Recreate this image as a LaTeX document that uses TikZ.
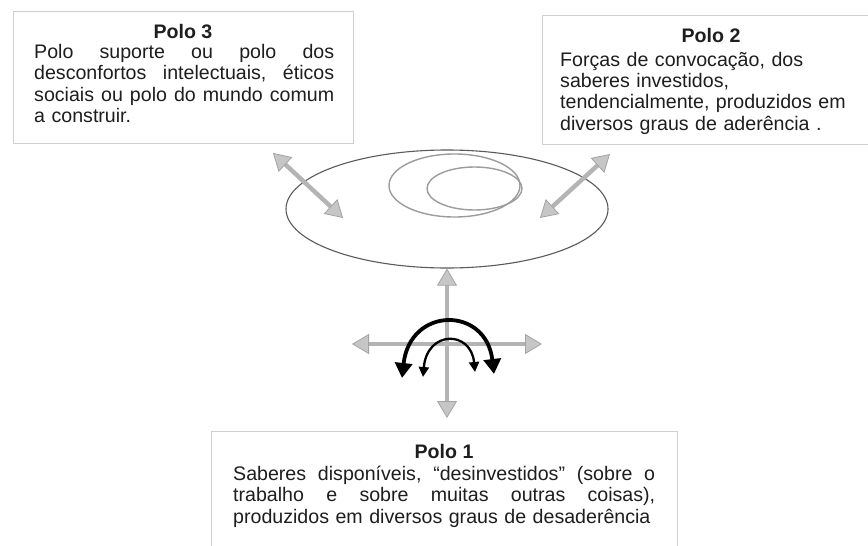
\documentclass[tikz,border=0pt]{standalone}
\usepackage{fontspec}
\setmainfont{Liberation Sans}
\usetikzlibrary{arrows.meta,shapes.geometric}
\definecolor{boxline}{HTML}{CFCFCF}
\definecolor{txt}{HTML}{1E1E1E}
\definecolor{arrline}{HTML}{B4B4B4}
\definecolor{arrfill}{HTML}{C6C6C6}
\definecolor{arredge}{HTML}{A4A4A4}
\definecolor{ellout}{HTML}{5A5A5A}
\definecolor{ellin}{HTML}{9C9C9C}
\newcommand{\jline}[2]{\leavevmode\hbox to #1{#2}}
\begin{document}
\begin{tikzpicture}[x=1pt,y=-1pt,
  box/.style={draw=boxline, line width=1.3pt, fill=white, rectangle, inner sep=0pt, anchor=north west},
  head/.style={font=\fontsize{19.6}{21.5}\selectfont\bfseries, text=txt, inner sep=0pt, anchor=base},
  body/.style={font=\fontsize{19.6}{21.5}\selectfont, text=txt, inner sep=0pt, anchor=base west, align=left},
  grayarr/.style={draw=arrline, line width=4.4pt,
    {Triangle[length=17pt,width=20pt,fill=arrfill,color=arredge,line width=0.8pt]}-{Triangle[length=17pt,width=20pt,fill=arrfill,color=arredge,line width=0.8pt]}},
  bigarc/.style={draw=black, line width=3.8pt,
    {Triangle[length=15pt,width=17pt]}-{Triangle[length=15pt,width=17pt]}},
  smallarc/.style={draw=black, line width=2.3pt,
    {Triangle[length=10pt,width=10pt]}-{Triangle[length=10pt,width=10pt]}},
  ellbig/.style={ellipse, draw=ellout, line width=1.1pt, inner sep=0pt},
  ellsmall/.style={ellipse, draw=ellin, line width=1.4pt, inner sep=0pt}
]
\clip (0,0) rectangle (868,546);
\fill[white] (0,0) rectangle (868,546);

% boxes
\node[box, minimum width=340pt, minimum height=132pt] (b3) at (13,11) {};
\node[box, minimum width=340pt, minimum height=129pt] (b2) at (542,15) {};
\node[box, minimum width=466pt, minimum height=130pt] (b1) at (211,431) {};

% headings
\node[head] (h3) at (183,38) {Polo 3};
\node[head] (h2) at (711,42) {Polo 2};
\node[head] (h1) at (444,458) {Polo 1};

% bodies
\node[body, text width=300pt] (t3) at (34,58) {%
\jline{300pt}{Polo \hfill suporte \hfill ou \hfill polo \hfill dos}\\
\jline{300pt}{desconfortos \hfill intelectuais, \hfill éticos}\\
\jline{300pt}{sociais \hfill ou \hfill polo \hfill do \hfill mundo \hfill comum}\\
a construir.};
\node[body, text width=300pt] (t2) at (560,66) {%
Forças de convocação, dos\\
saberes investidos,\\
tendencialmente, produzidos em\\
diversos graus de aderência .};
\node[body, text width=422pt] (t1) at (233,480) {%
\jline{422pt}{Saberes \hfill disponíveis, \hfill “desinvestidos” \hfill (sobre \hfill o}\\
\jline{422pt}{trabalho \hfill e \hfill sobre \hfill muitas \hfill outras \hfill coisas),}\\
produzidos em diversos graus de desaderência};

% named points
\coordinate (a3u) at (273,153);
\coordinate (a3d) at (343,218);
\coordinate (a2u) at (610,154);
\coordinate (a2d) at (540,218);
\coordinate (vd) at (447,418);
\coordinate (hl) at (352,344);
\coordinate (hr) at (542,344);
\coordinate (bl) at (402,378);
\coordinate (br) at (494,374);
\coordinate (sl) at (423,377);
\coordinate (sr) at (475,372);

% ellipses
\node[ellbig, minimum width=322pt, minimum height=118pt] (E) at (447,209) {};
\node[ellsmall, minimum width=131pt, minimum height=63pt] (E1) at (454.5,185.5) {};
\node[ellsmall, minimum width=95pt, minimum height=43pt] (E2) at (474.5,188.5) {};

% gray arrows
\draw[grayarr] (a3u) -- (a3d);
\draw[grayarr] (a2u) -- (a2d);
\draw[grayarr] (vd) -- (E.south);
\draw[grayarr] (hl) -- (hr);

% black arcs
\draw[bigarc] (bl) .. controls (410,306) and (486,306) .. (br);
\draw[smallarc] (sl) .. controls (427,330) and (471,330) .. (sr);
\end{tikzpicture}
\end{document}
